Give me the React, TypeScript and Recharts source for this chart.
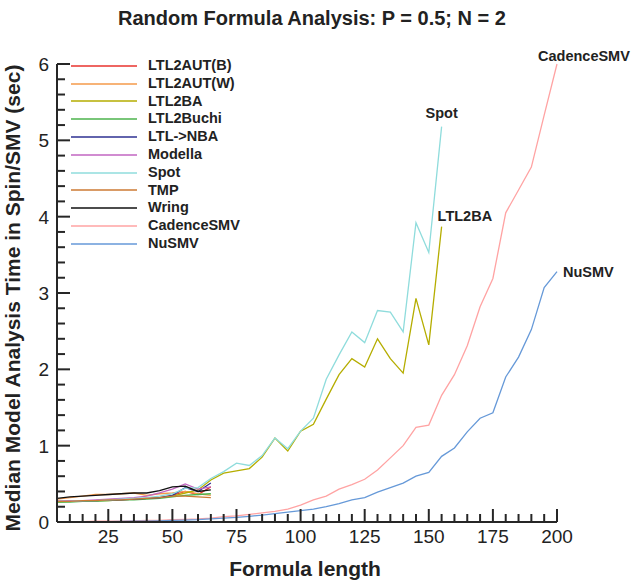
import { LineChart, Line, XAxis, YAxis, LabelList } from "recharts";

// formula length (x categories)
const lengths = [
  5, 10, 15, 20, 25, 30, 35, 40, 45, 50, 55, 60, 65, 70, 75, 80, 85, 90, 95, 100,
  105, 110, 115, 120, 125, 130, 135, 140, 145, 150, 155, 160, 165, 170, 175, 180, 185, 190, 195, 200,
];

// median analysis time (sec) per tool
const ltl2autB = [0.27, 0.27, 0.28, 0.28, 0.29, 0.3, 0.3, 0.31, 0.32, 0.35, 0.4, 0.36, 0.46];
const ltl2autW = [0.3, 0.32, 0.34, 0.36, 0.36, 0.37, 0.38, 0.35, 0.37, 0.38, 0.4, 0.37, 0.35];
const ltl2ba = [
  0.26, 0.27, 0.27, 0.28, 0.28, 0.29, 0.3, 0.31, 0.32, 0.34, 0.38, 0.42, 0.55,
  0.64, 0.67, 0.7, 0.85, 1.1, 0.93, 1.19, 1.28, 1.61, 1.93, 2.14, 2.03, 2.4, 2.14, 1.95, 2.93, 2.32, 3.87,
];
const ltl2buchi = [0.26, 0.26, 0.27, 0.27, 0.28, 0.29, 0.29, 0.3, 0.31, 0.33, 0.35, 0.36, 0.37];
const ltlNba = [0.27, 0.27, 0.28, 0.28, 0.29, 0.29, 0.3, 0.31, 0.32, 0.35, 0.45, 0.4, 0.51];
const modella = [0.27, 0.28, 0.28, 0.29, 0.3, 0.31, 0.32, 0.34, 0.38, 0.43, 0.5, 0.43, 0.46];
const spot = [
  0.27, 0.27, 0.28, 0.28, 0.29, 0.3, 0.31, 0.32, 0.34, 0.37, 0.44, 0.45, 0.57,
  0.66, 0.77, 0.74, 0.87, 1.1, 0.96, 1.19, 1.36, 1.87, 2.19, 2.49, 2.35, 2.77, 2.75, 2.49, 3.92, 3.53, 5.18,
];
const tmp = [0.27, 0.27, 0.28, 0.28, 0.29, 0.29, 0.3, 0.31, 0.32, 0.34, 0.34, 0.33, 0.32];
const wring = [0.31, 0.33, 0.34, 0.35, 0.36, 0.37, 0.38, 0.38, 0.41, 0.46, 0.47, 0.4, 0.42];
const cadenceSmv = [
  0.005, 0.005, 0.005, 0.01, 0.01, 0.01, 0.015, 0.02, 0.02, 0.03, 0.035, 0.04,
  0.05, 0.07, 0.08, 0.1, 0.12, 0.14, 0.17, 0.22, 0.29, 0.34, 0.43, 0.49, 0.56, 0.68, 0.84, 1.0,
  1.24, 1.27, 1.66, 1.93, 2.31, 2.82, 3.19, 4.05, 4.35, 4.65, 5.33, 6.0,
];
const nuSmv = [
  0.003, 0.003, 0.004, 0.005, 0.006, 0.008, 0.01, 0.012, 0.015, 0.02, 0.025, 0.03,
  0.04, 0.05, 0.06, 0.075, 0.09, 0.11, 0.13, 0.15, 0.17, 0.2, 0.24, 0.29, 0.32, 0.39, 0.45, 0.51,
  0.6, 0.65, 0.86, 0.97, 1.18, 1.36, 1.43, 1.9, 2.16, 2.52, 3.07, 3.28,
];

const xMajor = [25, 50, 75, 100, 125, 150, 175, 200];
const yMajor = [0, 1, 2, 3, 4, 5, 6];

// minor ticks every 5 on x, every 0.2 on y
const xTicks = lengths.filter((v) => v > 5);
const yTicks = Array.from({ length: 31 }, (_, i) => Math.round(i * 2) / 10);

type EndLabel = { dx: number; dy: number; anchor: "start" | "middle" | "end" };

const series: { key: string; name: string; color: string; values: number[]; end?: EndLabel }[] = [
  { key: "ltl2autB", name: "LTL2AUT(B)", color: "#e8332e", values: ltl2autB },
  { key: "ltl2autW", name: "LTL2AUT(W)", color: "#f59a4a", values: ltl2autW },
  { key: "ltl2ba", name: "LTL2BA", color: "#b5ad00", values: ltl2ba, end: { dx: -4, dy: -6, anchor: "start" } },
  { key: "ltl2buchi", name: "LTL2Buchi", color: "#4cb34c", values: ltl2buchi },
  { key: "ltlNba", name: "LTL->NBA", color: "#2e3192", values: ltlNba },
  { key: "modella", name: "Modella", color: "#c266c2", values: modella },
  { key: "spot", name: "Spot", color: "#8fdcdc", values: spot, end: { dx: 0, dy: -9, anchor: "middle" } },
  { key: "tmp", name: "TMP", color: "#cc7a33", values: tmp },
  { key: "wring", name: "Wring", color: "#111111", values: wring },
  { key: "cadenceSmv", name: "CadenceSMV", color: "#ffa3a3", values: cadenceSmv, end: { dx: -19, dy: -3, anchor: "start" } },
  { key: "nuSmv", name: "NuSMV", color: "#6699d8", values: nuSmv, end: { dx: 6, dy: 5, anchor: "start" } },
];

const data = lengths.map((len, i) => {
  const row: Record<string, number | undefined> = { len };
  series.forEach((s) => {
    row[s.key] = s.values[i];
  });
  return row;
});

const FONT = "'Liberation Sans', Arial, Helvetica, sans-serif";
const AXIS = "#262626";

// ticks point inward: long at labelled values, short in between
const XTick = (props: any) => {
  const { x, y, payload } = props;
  const major = xMajor.includes(payload.value);
  return (
    <g>
      <path d={`M${x},${y}V${y - (major ? 13 : 8)}`} stroke={AXIS} strokeWidth={2} fill="none" />
      {major && (
        <text x={x} y={y + 21} textAnchor="middle" fontSize={19} fill="#222" fontFamily={FONT}>
          {payload.value}
        </text>
      )}
    </g>
  );
};

const YTick = (props: any) => {
  const { x, y, payload } = props;
  const major = yMajor.includes(payload.value);
  return (
    <g>
      <path d={`M${x},${y}H${x + (major ? 13 : 8)}`} stroke={AXIS} strokeWidth={2} fill="none" />
      {major && (
        <text x={x - 8} y={y + 7} textAnchor="end" fontSize={19} fill="#222" fontFamily={FONT}>
          {payload.value}
        </text>
      )}
    </g>
  );
};

const ChartLegend = () => (
  <div
    style={{
      position: "absolute",
      left: 71,
      top: 57,
      fontFamily: FONT,
      fontWeight: 700,
      fontSize: 14.5,
      color: "#222",
    }}
  >
    {series.map((s) => (
      <div key={s.key} style={{ display: "flex", alignItems: "center", height: 17.8 }}>
        <svg width={66} height={4} style={{ display: "block" }}>
          <line x1={0} x2={66} y1={2} y2={2} stroke={s.color} strokeWidth={1.6} />
        </svg>
        <span style={{ marginLeft: 11, lineHeight: "17.8px" }}>{s.name}</span>
      </div>
    ))}
  </div>
);

const endLabel = (s: (typeof series)[number]) => (props: any) => {
  const { x, y, index } = props;
  if (!s.end || index !== s.values.length - 1) return null;
  return (
    <text
      x={x + s.end.dx}
      y={y + s.end.dy}
      textAnchor={s.end.anchor}
      fontSize={14.5}
      fontWeight={700}
      fill="#222"
      fontFamily={FONT}
    >
      {s.name}
    </text>
  );
};

export default function App() {
  return (
    <div style={{ position: "absolute", left: 0, top: 0, width: 632, height: 580, background: "#fff" }}>
      <LineChart width={632} height={580} data={data} margin={{ top: 64, right: 75, bottom: 28, left: 7 }}>
        <XAxis
          dataKey="len"
          type="number"
          domain={[5, 200]}
          ticks={xTicks}
          interval={0}
          tickSize={0}
          tickMargin={0}
          tickLine={false}
          tick={XTick}
          height={30}
          axisLine={{ stroke: AXIS, strokeWidth: 2 }}
        />
        <YAxis
          type="number"
          domain={[0, 6]}
          ticks={yTicks}
          interval={0}
          tickSize={0}
          tickMargin={0}
          tickLine={false}
          tick={YTick}
          width={50}
          axisLine={{ stroke: AXIS, strokeWidth: 2 }}
        />
        {series.map((s) => (
          <Line
            key={s.key}
            dataKey={s.key}
            name={s.name}
            stroke={s.color}
            strokeWidth={1.3}
            dot={false}
            activeDot={false}
            type="linear"
            isAnimationActive={false}
          >
            {s.end && <LabelList dataKey={s.key} content={endLabel(s)} />}
          </Line>
        ))}
      </LineChart>
      <ChartLegend />
      <svg
        width={632}
        height={580}
        style={{ position: "absolute", left: 0, top: 0, pointerEvents: "none" }}
        fontFamily={FONT}
        fontWeight={700}
        fill="#222"
      >
        <text x={312} y={25} textAnchor="middle" fontSize={20}>
          Random Formula Analysis: P = 0.5; N = 2
        </text>
        <text x={305} y={576} textAnchor="middle" fontSize={21}>
          Formula length
        </text>
        <text x={20} y={298} textAnchor="middle" fontSize={21} transform="rotate(-90 20 298)">
          Median Model Analysis Time in Spin/SMV (sec)
        </text>
      </svg>
    </div>
  );
}
